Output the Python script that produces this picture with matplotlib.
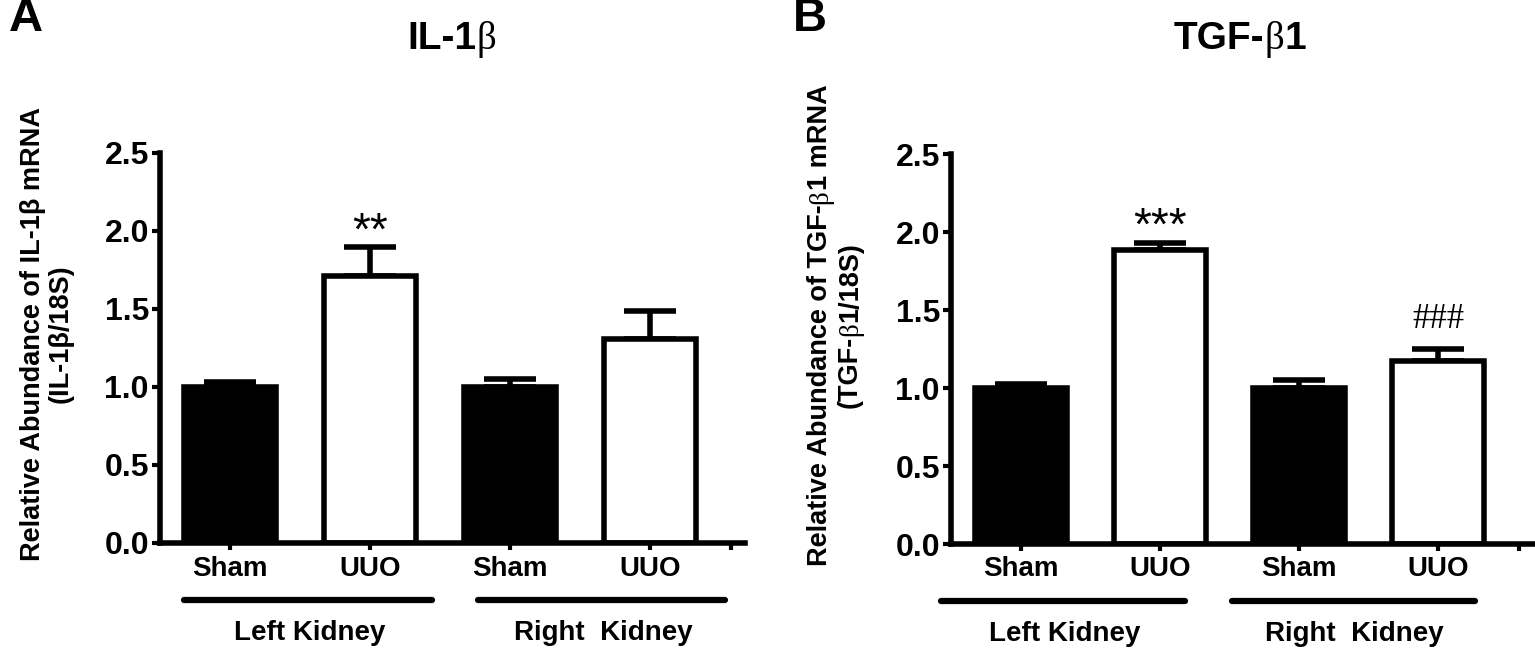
import matplotlib
matplotlib.use('Agg')
import matplotlib.pyplot as plt
from matplotlib.transforms import IdentityTransform

plt.rcParams['font.family'] = 'Liberation Sans'
plt.rcParams['font.weight'] = 'bold'

# data
groups = ['Sham', 'UUO', 'Sham', 'UUO']
kidneys = ['Left Kidney', 'Right  Kidney']
bar_colors = ['black', 'white', 'black', 'white']
yticks = [0.0, 0.5, 1.0, 1.5, 2.0, 2.5]

il1b_mean = [1.00, 1.71, 1.00, 1.31]
il1b_err = [0.03, 0.19, 0.05, 0.18]
il1b_marks = [(1, 1.91, '**')]

tgfb1_mean = [1.00, 1.885, 1.00, 1.17]
tgfb1_err = [0.025, 0.045, 0.05, 0.08]
tgfb1_marks = [(1, 1.95, '***'), (3, 1.385, '###')]

W, H = 1535, 650
fig = plt.figure(figsize=(W/100, H/100), dpi=100)
axA = fig.add_axes([160/W, 107/H, 585/W, 390/H])
axB = fig.add_axes([951/W, 106/H, 582/W, 390/H])
renderer = fig.canvas.get_renderer()

SANS = ('Liberation Sans', 'bold')
SERIF = ('Liberation Serif', 'normal')


def draw_panel(ax, means, errs, marks, spans, label_x):
    x = list(range(len(means)))
    ax.bar(x, means, width=0.66, color=bar_colors, edgecolor='black',
           linewidth=4, zorder=2)
    ax.errorbar(x, means, yerr=[[0]*len(errs), errs], fmt='none', ecolor='black',
                elinewidth=4, capsize=19, capthick=4, zorder=1)
    for xi, yi, s in marks:
        if s.startswith('#'):
            ax.text(xi, yi, s, ha='center', va='baseline', fontsize=25,
                    fontweight='normal', family='Liberation Serif')
        else:
            ax.text(xi, yi, s, ha='center', va='baseline', fontsize=33,
                    fontweight='normal')
    ax.set_xlim(-0.5, 3.68)
    ax.set_ylim(0, 2.5)
    ax.set_yticks(yticks)
    ax.set_yticklabels(['%.1f' % t for t in yticks], fontsize=23)
    ax.set_xticks([0, 1, 2, 3, 3.58])
    ax.set_xticklabels(groups + [''], fontsize=20)
    ax.tick_params(axis='y', length=6, width=3, pad=2)
    ax.tick_params(axis='x', length=5, width=3, pad=4)
    for side in ['top', 'right']:
        ax.spines[side].set_visible(False)
    for side in ['left', 'bottom']:
        ax.spines[side].set_linewidth(4)
    trans = ax.get_xaxis_transform()
    for (x0, x1), lx, name in zip(spans, label_x, kidneys):
        ax.plot([x0, x1], [-0.146, -0.146], color='black', lw=4.5,
                solid_capstyle='round', transform=trans, clip_on=False)
        ax.text(lx, -0.232, name, ha='center', va='center', fontsize=20,
                transform=trans)


def mixed_text(cx, base, pieces, size, vertical=False):
    # pieces of text in different fonts, centred on cx (pixels from left/top);
    # base is the baseline position in pixels
    rot = 90 if vertical else 0
    texts = []
    for s, (fam, wt) in pieces:
        t = fig.text(0, 0, s, fontsize=size, family=fam, fontweight=wt,
                     rotation=rot, rotation_mode='anchor', ha='left',
                     va='baseline', transform=IdentityTransform())
        texts.append(t)
    lens = []
    for t in texts:
        bb = t.get_window_extent(renderer)
        lens.append(bb.height if vertical else bb.width)
    pos = -sum(lens) / 2
    for t, L in zip(texts, lens):
        if vertical:
            t.set_position((base, H - cx + pos))
        else:
            t.set_position((cx + pos, H - base))
        pos += L


draw_panel(axA, il1b_mean, il1b_err, il1b_marks,
           [(-0.33, 1.44), (1.77, 3.54)], [0.57, 2.67])
draw_panel(axB, tgfb1_mean, tgfb1_err, tgfb1_marks,
           [(-0.57, 1.18), (1.52, 3.26)], [0.32, 2.40])

# panel letters and titles
fig.text(26/W, 1 - 19/H, 'A', ha='center', va='center', fontsize=34)
fig.text(810/W, 1 - 19/H, 'B', ha='center', va='center', fontsize=34)
mixed_text(452, 49, [('IL-1', SANS), ('β', SERIF)], 28)
mixed_text(1240, 49, [('TGF-', SANS), ('β', SERIF), ('1', SANS)], 28)

# y labels
fig.text(47/W, 1 - 334/H, 'Relative Abundance of IL-1β mRNA\n(IL-1β/18S)',
         rotation=90, ha='center', va='center', multialignment='center',
         fontsize=19.5, linespacing=1.1)
mixed_text(325, 827, [('Relative Abundance of TGF-', SANS), ('β', SERIF),
                      ('1 mRNA', SANS)], 19.5, vertical=True)
mixed_text(325, 857, [('(TGF-', SANS), ('β', SERIF), ('1/18S)', SANS)],
           19.5, vertical=True)

fig.savefig('out.png', dpi=100)
